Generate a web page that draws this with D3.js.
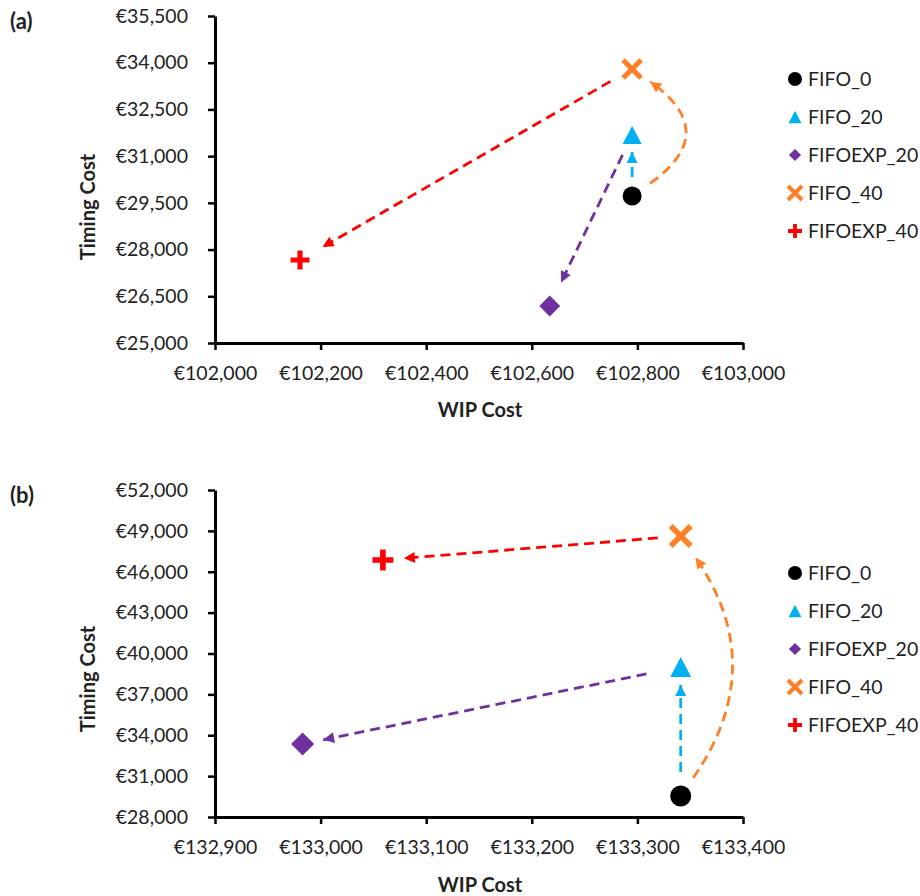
<!DOCTYPE html>
<html>
<head>
  <title>WIP Cost vs Timing Cost</title>
  <script src="https://d3js.org/d3.v7.min.js"></script>
  <style>
    body { margin: 0; background: #fff; }
    text { font-family: Lato, "Open Sans", sans-serif; }
  </style>
</head>
<body>
  <div id="chart"></div>

  <script>
    var seriesNames = ["FIFO_0", "FIFO_20", "FIFOEXP_20", "FIFO_40", "FIFOEXP_40"];
    var seriesColors = ["#000000", "#00B0F0", "#7030A0", "#FF7F27", "#FF0000"];

    // panel (a)
    var wipA = [102790, 102790, 102634, 102790, 102161];
    var timingA = [29720, 31680, 26190, 33800, 27665];
    var xTicksA = [102000, 102200, 102400, 102600, 102800, 103000];
    var yTicksA = [25000, 26500, 28000, 29500, 31000, 32500, 34000, 35500];

    // panel (b)
    var wipB = [133341, 133341, 132983, 133341, 133059];
    var timingB = [29540, 39010, 33360, 48620, 46860];
    var xTicksB = [132900, 133000, 133100, 133200, 133300, 133400];
    var yTicksB = [28000, 31000, 34000, 37000, 40000, 43000, 46000, 49000, 52000];

    // arrows between scenarios (gaps and bend in px)
    var arrowsA = [
      {from: "FIFO_0", to: "FIFO_20", gap0: 19, gap1: 17, bend: 0},
      {from: "FIFO_20", to: "FIFOEXP_20", gap0: 22, gap1: 26, bend: 0},
      {from: "FIFO_0", to: "FIFO_40", gap0: 22, gap1: 22, bend: 90},
      {from: "FIFO_40", to: "FIFOEXP_40", gap0: 25, gap1: 26, bend: 0}
    ];
    var arrowsB = [
      {from: "FIFO_0", to: "FIFO_20", gap0: 24, gap1: 18, bend: 0},
      {from: "FIFO_20", to: "FIFOEXP_20", gap0: 35, gap1: 21, bend: 0},
      {from: "FIFO_0", to: "FIFO_40", gap0: 22, gap1: 26, bend: 90},
      {from: "FIFO_40", to: "FIFOEXP_40", gap0: 23, gap1: 21, bend: 0}
    ];

    var svg = d3.select("#chart").append("svg")
      .attr("width", 920)
      .attr("height", 896);

    var defs = svg.append("defs");
    seriesColors.forEach(function(c, i) {
      defs.append("marker")
        .attr("id", "head" + i)
        .attr("viewBox", "0 0 10 10")
        .attr("refX", 10)
        .attr("refY", 5)
        .attr("markerUnits", "userSpaceOnUse")
        .attr("markerWidth", 12)
        .attr("markerHeight", 11)
        .attr("orient", "auto")
        .append("path")
        .attr("d", "M0,0L10,5L0,10Z")
        .attr("fill", c);
    });

    function drawMarker(g, i, s) {
      var c = seriesColors[i];
      if (i == 0) {
        g.append("circle").attr("r", s / 2).attr("fill", c);
      } else if (i == 1) {
        var h = s * 0.95;
        g.append("path")
          .attr("d", "M0," + (-h / 2) + "L" + (s / 2) + "," + (h / 2) + "L" + (-s / 2) + "," + (h / 2) + "Z")
          .attr("fill", c);
      } else if (i == 2) {
        var r = s * 0.55;
        g.append("path")
          .attr("d", "M0," + (-r) + "L" + r + ",0L0," + r + "L" + (-r) + ",0Z")
          .attr("fill", c);
      } else if (i == 3) {
        var a = s / 2 - 0.5;
        g.append("path")
          .attr("d", "M" + (-a) + "," + (-a) + "L" + a + "," + a + "M" + a + "," + (-a) + "L" + (-a) + "," + a)
          .attr("stroke", c).attr("stroke-width", s * 0.27).attr("fill", "none");
      } else {
        var p = s / 2;
        g.append("path")
          .attr("d", "M" + (-p) + ",0L" + p + ",0M0," + (-p) + "L0," + p)
          .attr("stroke", c).attr("stroke-width", s * 0.27).attr("fill", "none");
      }
    }

    function drawPanel(opt) {
      var g = svg.append("g");
      var x = d3.scaleLinear().domain(d3.extent(opt.xTicks)).range([215, 743]);
      var y = d3.scaleLinear().domain(d3.extent(opt.yTicks)).range([opt.bottom, opt.top]);
      var fmt = function(d) { return "\u20ac" + d3.format(",")(d); };

      var xAxis = g.append("g")
        .attr("transform", "translate(0," + opt.bottom + ")")
        .call(d3.axisBottom(x).tickValues(opt.xTicks).tickFormat(fmt).tickSize(7).tickSizeOuter(0).tickPadding(16));
      var yAxis = g.append("g")
        .attr("transform", "translate(215,0)")
        .call(d3.axisLeft(y).tickValues(opt.yTicks).tickFormat(fmt).tickSize(7).tickSizeOuter(0).tickPadding(20));

      [xAxis, yAxis].forEach(function(ax) {
        ax.select(".domain").attr("stroke", "#000").attr("stroke-width", 3);
        ax.selectAll(".tick line").attr("stroke", "#000").attr("stroke-width", 2.5);
        ax.selectAll(".tick text").attr("font-size", 19.5).attr("fill", "#222").attr("font-family", "Lato, sans-serif");
      });

      var pts = {};
      seriesNames.forEach(function(n, i) {
        pts[n] = {x: x(opt.wip[i]), y: y(opt.timing[i]), i: i};
      });

      // arrows
      opt.arrows.forEach(function(a) {
        var p0 = pts[a.from], p1 = pts[a.to];
        var dx = p1.x - p0.x, dy = p1.y - p0.y;
        var len = Math.sqrt(dx * dx + dy * dy);
        var mx = (p0.x + p1.x) / 2, my = (p0.y + p1.y) / 2;
        // perpendicular pointing right of travel direction
        var cx = mx - dy / len * a.bend, cy = my + dx / len * a.bend;
        function toward(p, tx, ty, gap) {
          var ux = tx - p.x, uy = ty - p.y, l = Math.sqrt(ux * ux + uy * uy);
          return [p.x + ux / l * gap, p.y + uy / l * gap];
        }
        var s = toward(p0, cx, cy, a.gap0);
        var e = toward(p1, cx, cy, a.gap1);
        var d = a.bend
          ? "M" + s[0] + "," + s[1] + "Q" + cx + "," + cy + " " + e[0] + "," + e[1]
          : "M" + s[0] + "," + s[1] + "L" + e[0] + "," + e[1];
        g.append("path")
          .attr("d", d)
          .attr("fill", "none")
          .attr("stroke", seriesColors[p1.i])
          .attr("stroke-width", 2.8)
          .attr("stroke-dasharray", "10,6")
          .attr("marker-end", "url(#head" + p1.i + ")");
      });

      // points
      seriesNames.forEach(function(n, i) {
        var m = g.append("g").attr("transform", "translate(" + pts[n].x + "," + pts[n].y + ")");
        drawMarker(m, i, opt.markerSize);
      });

      // legend
      var legendSizes = [14, 13, 11, 15, 14];
      seriesNames.forEach(function(n, i) {
        var ly = opt.legendTop + i * 38;
        var m = g.append("g").attr("transform", "translate(795," + ly + ")");
        drawMarker(m, i, legendSizes[i]);
        g.append("text")
          .attr("x", 808)
          .attr("y", ly)
          .attr("dy", "0.36em")
          .attr("font-size", 19.5)
          .attr("fill", "#222")
          .text(n);
      });

      // titles
      g.append("text")
        .attr("transform", "translate(95," + opt.yTitle + ") rotate(-90)")
        .attr("text-anchor", "middle")
        .attr("font-size", 20)
        .attr("font-weight", "bold")
        .attr("fill", "#222")
        .text("Timing Cost");
      g.append("text")
        .attr("x", 480)
        .attr("y", opt.xTitle)
        .attr("text-anchor", "middle")
        .attr("font-size", 20)
        .attr("font-weight", "bold")
        .attr("fill", "#222")
        .text("WIP Cost");
      g.append("text")
        .attr("x", 10)
        .attr("y", opt.top + 13)
        .attr("font-size", 22)
        .attr("font-weight", "bold")
        .attr("fill", "#222")
        .text(opt.label);
    }

    drawPanel({
      label: "(a)", wip: wipA, timing: timingA, xTicks: xTicksA, yTicks: yTicksA,
      arrows: arrowsA, top: 16, bottom: 343, markerSize: 19, legendTop: 79, yTitle: 207, xTitle: 417
    });
    drawPanel({
      label: "(b)", wip: wipB, timing: timingB, xTicks: xTicksB, yTicks: yTicksB,
      arrows: arrowsB, top: 490, bottom: 817, markerSize: 21, legendTop: 573, yTitle: 679, xTitle: 892
    });
  </script>
</body>
</html>
